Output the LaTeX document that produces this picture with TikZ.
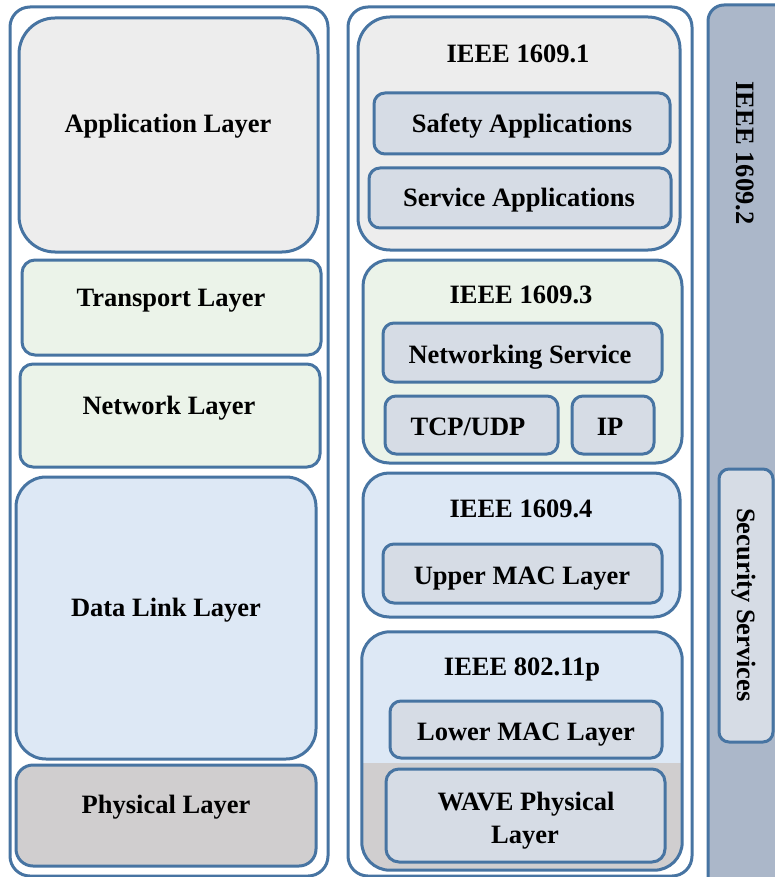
\documentclass[tikz,border=0pt]{standalone}
\usepackage{fontspec}
\setmainfont{Liberation Serif}
\usetikzlibrary{fit}
\definecolor{bord}{RGB}{71,116,162}
\definecolor{appgray}{RGB}{237,237,237}
\definecolor{lgreen}{RGB}{235,243,233}
\definecolor{lblue}{RGB}{221,232,245}
\definecolor{physgray}{RGB}{208,206,207}
\definecolor{innerbox}{RGB}{214,220,229}
\definecolor{barcol}{RGB}{171,183,201}
\tikzset{
  lay/.style={draw=bord, line width=3pt, inner sep=0pt},
  ttl/.style={font=\fontsize{26.5}{32}\selectfont\bfseries, text=black, inner sep=0pt, anchor=base},
  vttl/.style={font=\fontsize{26.5}{32}\selectfont\bfseries, text=black, inner sep=0pt, rotate=-90},
}
\begin{document}
\begin{tikzpicture}[x=1pt,y=-1pt]
\useasboundingbox (0,0) rectangle (775,877);
\clip (0,0) rectangle (775,877);
% right bar
\node[lay, fill=barcol, rounded corners=16, fit={(708,5) (800,900)}] (bar) {};
\node[vttl] (b2) at (745,153) {IEEE 1609.2};
\node[lay, fill=innerbox, rounded corners=10, fit={(719,469) (773,742)}] (sec) {};
\node[vttl] (sect) at (744,605) {Security Services};

% left column
\node[lay, fill=white, rounded corners=20, fit={(10,7) (328,876)}] (lout) {};
\node[lay, fill=appgray, rounded corners=36, fit={(19,18) (318,252)}] (app) {};
\node[ttl] (appt) at (168,133) {Application Layer};
\node[lay, fill=lgreen, rounded corners=13, fit={(22,260) (321,355)}] (trans) {};
\node[ttl] (transt) at (171,306) {Transport Layer};
\node[lay, fill=lgreen, rounded corners=13, fit={(20,364) (320,467)}] (net) {};
\node[ttl] (nett) at (169,414) {Network Layer};
\node[lay, fill=lblue, rounded corners=30, fit={(16,477) (316,759)}] (dl) {};
\node[ttl] (dlt) at (166,616) {Data Link Layer};
\node[lay, fill=physgray, rounded corners=17, fit={(16,765) (316,866)}] (phy) {};
\node[ttl] (phyt) at (166,813) {Physical Layer};

% middle column
\node[lay, fill=white, rounded corners=20, fit={(348,7) (692,876)}] (mout) {};
\node[lay, fill=appgray, rounded corners=32, fit={(358,17) (680,250)}] (i1) {};
\node[ttl] (i1t) at (518,63) {IEEE 1609.1};
\node[lay, fill=innerbox, rounded corners=11, fit={(374,93) (670,154)}] (safe) {};
\node[ttl] (safet) at (522,133) {Safety Applications};
\node[lay, fill=innerbox, rounded corners=11, fit={(369,168) (671,228)}] (serv) {};
\node[ttl] (servt) at (519,207) {Service Applications};

\node[lay, fill=lgreen, rounded corners=26, fit={(363,260) (682,463)}] (i3) {};
\node[ttl] (i3t) at (521,303) {IEEE 1609.3};
\node[lay, fill=innerbox, rounded corners=11, fit={(383,323) (662,382)}] (nets) {};
\node[ttl] (netst) at (520,363) {Networking Service};
\node[lay, fill=innerbox, rounded corners=11, fit={(385,396) (558,454)}] (tcp) {};
\node[ttl] (tcpt) at (468,435) {TCP/UDP};
\node[lay, fill=innerbox, rounded corners=11, fit={(572,396) (654,454)}] (ip) {};
\node[ttl] (ipt) at (610,435) {IP};

\node[lay, fill=lblue, rounded corners=26, fit={(363,473) (680,617)}] (i4) {};
\node[ttl] (i4t) at (521,517) {IEEE 1609.4};
\node[lay, fill=innerbox, rounded corners=11, fit={(383,544) (662,603)}] (umac) {};
\node[ttl] (umact) at (522,584) {Upper MAC Layer};

\node[draw=none, fill=lblue, inner sep=0pt, rounded corners=28, fit={(362,632) (682,870)}] (p80) {};
\begin{scope}
  \clip[rounded corners=28] (362,632) rectangle (682,870);
  \fill[physgray] (350,763) rectangle (700,890);
\end{scope}
\draw[draw=bord, line width=3pt, rounded corners=28] (p80.north west) rectangle (p80.south east);
\node[ttl] (p80t) at (522,675) {IEEE 802.11p};
\node[lay, fill=innerbox, rounded corners=11, fit={(390,701) (662,758)}] (lmac) {};
\node[ttl] (lmact) at (526,740) {Lower MAC Layer};
\node[lay, fill=innerbox, rounded corners=13, fit={(386,769) (665,862)}] (wave) {};
\node[ttl] (wavet1) at (526,810) {WAVE Physical};
\node[ttl] (wavet2) at (525,843) {Layer};
\end{tikzpicture}
\end{document}
